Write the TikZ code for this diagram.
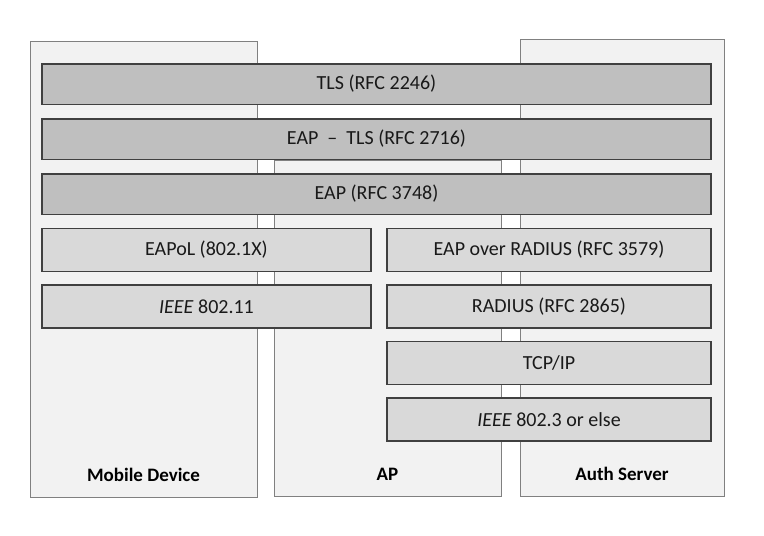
\documentclass[tikz,border=0pt]{standalone}
\usepackage{fontspec}
\setmainfont{Carlito}
\usetikzlibrary{positioning}
\definecolor{colfill}{HTML}{F2F2F2}
\definecolor{darkbar}{HTML}{BFBFBF}
\definecolor{lightbar}{HTML}{D9D9D9}
\definecolor{barline}{HTML}{404040}
\tikzset{
    column/.style={
        draw=gray, fill=colfill, rectangle, line width=1pt, anchor=north west, inner sep=0pt, outer sep=0pt
    },
    collabel/.style={
        font=\fontsize{19}{22}\selectfont\bfseries, text=black, inner sep=0pt
    },
    widelayer/.style={
        draw=barline, rectangle, line width=1.5pt, fill=darkbar, minimum width=669pt, minimum height=40.5pt, inner sep=0pt, outer sep=0pt, text=black!90
    },
    layer/.style={
        draw=barline, rectangle, line width=1.5pt, fill=lightbar, minimum height=43pt, inner sep=0pt, outer sep=0pt, text=black!90
    },
    every node/.style={font=\fontsize{20}{24}\selectfont}
}

\begin{document}
\begin{tikzpicture}[x=1pt, y=-1pt]

    \useasboundingbox (0,0) rectangle (764,536);

    % columns
    \node (mobile) [column, minimum width=227pt, minimum height=456pt] at (30,41) {};
    \node (ap) [column, minimum width=227pt, minimum height=336pt] at (274,160) {};
    \node (server) [column, minimum width=204pt, minimum height=457pt] at (520,39) {};
    \node [collabel, above=15pt of mobile.south] {Mobile Device};
    \node [collabel, above=15pt of ap.south] {AP};
    \node [collabel, above=15pt of server.south] {Auth Server};

    % shared layers
    \node (tls) [widelayer] at (376.5,84) {TLS (RFC 2246)};
    \node (eaptls) [widelayer, below=14.5pt of tls] {EAP \ – \ TLS (RFC 2716)};
    \node (eap) [widelayer, below=14.5pt of eaptls] {EAP (RFC 3748)};

    % mobile side
    \node (eapol) [layer, minimum width=329pt, below right=14pt and 0pt of eap.south west] {EAPoL (802.1X)};
    \node (wifi) [layer, minimum width=329pt, below=13.5pt of eapol] {\textit{IEEE} 802.11};

    % server side
    \node (eapradius) [layer, minimum width=324pt, below left=14pt and 0pt of eap.south east] {EAP over RADIUS (RFC 3579)};
    \node (radius) [layer, minimum width=324pt, below=13.5pt of eapradius] {RADIUS (RFC 2865)};
    \node (tcpip) [layer, minimum width=324pt, below=13.5pt of radius] {TCP/IP};
    \node (ethernet) [layer, minimum width=324pt, below=13.5pt of tcpip] {\textit{IEEE} 802.3 or else};

\end{tikzpicture}
\end{document}
